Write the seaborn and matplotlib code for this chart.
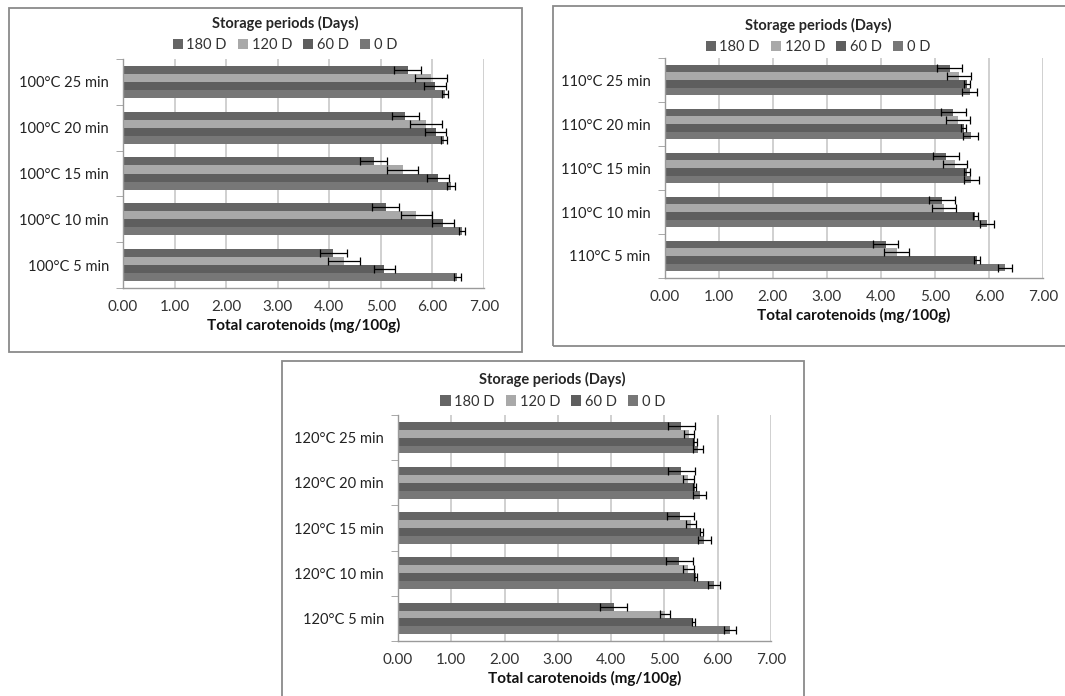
import matplotlib
matplotlib.use('Agg')
import matplotlib.pyplot as plt
import seaborn as sns
import pandas as pd
from matplotlib.patches import Rectangle, Patch
from matplotlib.ticker import FixedLocator, FormatStrFormatter

# categories
durations = ['25 min', '20 min', '15 min', '10 min', '5 min']
periods = ['180 D', '120 D', '60 D', '0 D']
temps = ['100°C', '110°C', '120°C']

# 100°C means (top to bottom: 25, 20, 15, 10, 5 min)
m100_180 = [5.52, 5.47, 4.86, 5.09, 4.08]
m100_120 = [5.98, 5.87, 5.42, 5.69, 4.28]
m100_60 = [6.05, 6.06, 6.11, 6.20, 5.07]
m100_0 = [6.25, 6.22, 6.36, 6.57, 6.48]
e100_180 = [0.26, 0.26, 0.26, 0.26, 0.26]
e100_120 = [0.31, 0.31, 0.30, 0.30, 0.31]
e100_60 = [0.21, 0.21, 0.21, 0.21, 0.21]
e100_0 = [0.06, 0.06, 0.07, 0.06, 0.07]

# 110°C
m110_180 = [5.27, 5.34, 5.20, 5.13, 4.09]
m110_120 = [5.44, 5.42, 5.37, 5.17, 4.29]
m110_60 = [5.59, 5.53, 5.59, 5.75, 5.78]
m110_0 = [5.64, 5.66, 5.67, 5.96, 6.30]
e110_180 = [0.24, 0.23, 0.24, 0.24, 0.23]
e110_120 = [0.22, 0.22, 0.22, 0.22, 0.23]
e110_60 = [0.05, 0.05, 0.05, 0.05, 0.05]
e110_0 = [0.13, 0.14, 0.14, 0.13, 0.13]

# 120°C
m120_180 = [5.32, 5.32, 5.30, 5.28, 4.05]
m120_120 = [5.46, 5.45, 5.50, 5.45, 5.01]
m120_60 = [5.57, 5.57, 5.69, 5.59, 5.54]
m120_0 = [5.63, 5.66, 5.75, 5.93, 6.23]
e120_180 = [0.26, 0.25, 0.25, 0.25, 0.25]
e120_120 = [0.09, 0.10, 0.10, 0.11, 0.10]
e120_60 = [0.04, 0.03, 0.03, 0.03, 0.03]
e120_0 = [0.10, 0.12, 0.12, 0.11, 0.11]

colors = ['#656565', '#a9a9a9', '#5e5e5e', '#777777']

sns.set_style('white')
plt.rcParams['font.family'] = ['Lato', 'DejaVu Sans']

fig = plt.figure(figsize=(10.65, 6.96), dpi=100)

panels = [
    (temps[0], [m100_180, m100_120, m100_60, m100_0], [e100_180, e100_120, e100_60, e100_0],
     [0.1155, 0.5862, 0.339, 0.329], (0.2676, 0.951), (9, 8, 522, 352)),
    (temps[1], [m110_180, m110_120, m110_60, m110_0], [e110_180, e110_120, e110_60, e110_0],
     [0.624, 0.6006, 0.3554, 0.316], (0.768, 0.948), (553, 6, 1075, 346)),
    (temps[2], [m120_180, m120_120, m120_60, m120_0], [e120_180, e120_120, e120_60, e120_0],
     [0.3737, 0.079, 0.3502, 0.3247], (0.519, 0.439), (282, 361, 804, 700)),
]

W, H = 1065.0, 696.0

for temp, means, errs, rect, leg_pos, frame in panels:
    # frame round the chart
    x0, y0, x1, y1 = frame
    fig.add_artist(Rectangle((x0 / W, 1 - y1 / H), (x1 - x0) / W, (y1 - y0) / H,
                             transform=fig.transFigure, fill=False,
                             edgecolor='#8a8a8a', lw=1.3))

    labels = [temp + ' ' + d for d in durations]
    rows = []
    for p, vals in zip(periods, means):
        for lab, v in zip(labels, vals):
            rows.append({'label': lab, 'period': p, 'value': v})
    df = pd.DataFrame(rows)

    ax = fig.add_axes(rect)
    sns.barplot(data=df, x='value', y='label', hue='period', order=labels,
                hue_order=periods, palette=colors, orient='h', width=0.7,
                errorbar=None, saturation=1, linewidth=0, legend=False, ax=ax)

    # error bars on each bar
    for cont, ev in zip(ax.containers, errs):
        for bar, e in zip(cont, ev):
            ax.errorbar(bar.get_width(), bar.get_y() + bar.get_height() / 2, xerr=e,
                        fmt='none', ecolor='black', elinewidth=0.9, capsize=2.8,
                        capthick=0.9, zorder=5)

    ax.set_xlim(0, 7)
    ax.set_ylim(4.5, -0.5)
    ax.set_axisbelow(True)
    ax.xaxis.grid(True, color='#c4c4c4', lw=1.1)
    ax.set_xticks(range(8))
    ax.xaxis.set_major_formatter(FormatStrFormatter('%.2f'))
    for s in ['top', 'right']:
        ax.spines[s].set_visible(False)
    for s in ['left', 'bottom']:
        ax.spines[s].set_color('#9a9a9a')
        ax.spines[s].set_linewidth(1.0)
    ax.yaxis.set_minor_locator(FixedLocator([-0.5, 0.5, 1.5, 2.5, 3.5, 4.5]))
    ax.tick_params(axis='y', which='major', length=0, labelsize=10.5, pad=10, labelcolor='#222222')
    ax.tick_params(axis='y', which='minor', length=5, color='#9a9a9a', left=True)
    ax.tick_params(axis='x', length=5, color='#9a9a9a', labelsize=11, labelcolor='#333333')
    ax.set_ylabel('')
    ax.set_xlabel('Total carotenoids (mg/100g)', fontsize=11, fontweight='bold',
                  labelpad=3, color='#111111')

    handles = [Patch(facecolor=c, edgecolor='none') for c in colors]
    ax.legend(handles, periods, title='Storage periods (Days)', ncol=4,
              loc='center', bbox_to_anchor=leg_pos, bbox_transform=fig.transFigure,
              frameon=False, handlelength=0.7, handleheight=0.7, handletextpad=0.25,
              columnspacing=0.75, fontsize=10.5, labelcolor='#333333',
              title_fontproperties={'weight': 'bold', 'size': 10.5})

fig.savefig('out.png', dpi=100, facecolor='white')
